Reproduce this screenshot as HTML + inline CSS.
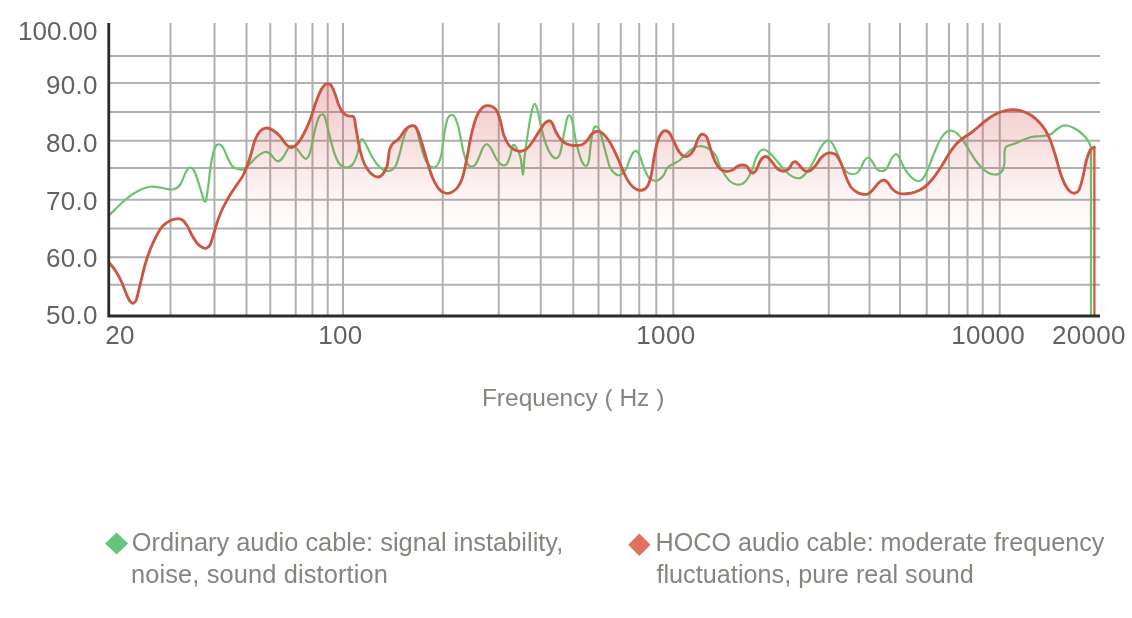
<!DOCTYPE html>
<html lang="en">
<head>
<meta charset="utf-8">
<title>Frequency response</title>
<style>
html,body{margin:0;padding:0;background:#fff;}
body{will-change:transform;width:1132px;height:618px;position:relative;overflow:hidden;font-family:"Liberation Sans",sans-serif;}
#chart{position:absolute;left:0;top:0;width:1132px;height:618px;filter:blur(0.4px);}
.yl,.xl,.title,.leg{filter:blur(0.35px);}
.yl{position:absolute;right:1034.5px;height:28px;line-height:28px;font-size:26px;color:#626262;white-space:nowrap;text-align:right;letter-spacing:0px;}
.xl{position:absolute;top:321.3px;height:28px;line-height:28px;font-size:26px;color:#626262;white-space:nowrap;letter-spacing:0.3px;}
.title{position:absolute;left:481.9px;top:383.5px;font-size:24.5px;line-height:28px;color:#85857e;white-space:nowrap;letter-spacing:0px;}
.leg{position:absolute;transform:translateY(0.4px);font-size:25px;height:31.5px;line-height:31.5px;color:#85857e;white-space:nowrap;}
</style>
</head>
<body>
<svg id="chart" width="1132" height="618" viewBox="0 0 1132 618">
<defs>
<linearGradient id="fg" gradientUnits="userSpaceOnUse" x1="0" y1="85" x2="0" y2="235">
<stop offset="0" stop-color="#d64e50" stop-opacity="0.3"/>
<stop offset="0.3" stop-color="#d64e50" stop-opacity="0.216"/>
<stop offset="0.567" stop-color="#d64e50" stop-opacity="0.117"/>
<stop offset="0.767" stop-color="#d64e50" stop-opacity="0.051"/>
<stop offset="0.933" stop-color="#d64e50" stop-opacity="0.018"/>
<stop offset="1" stop-color="#d64e50" stop-opacity="0"/>
</linearGradient>
<linearGradient id="fm" gradientUnits="userSpaceOnUse" x1="222" y1="0" x2="248" y2="0">
<stop offset="0" stop-color="#fff" stop-opacity="0"/>
<stop offset="0.4" stop-color="#fff" stop-opacity="0.3"/>
<stop offset="0.97" stop-color="#fff" stop-opacity="0.45"/>
<stop offset="1" stop-color="#fff" stop-opacity="1"/>
</linearGradient>
<mask id="mk" maskUnits="userSpaceOnUse" x="0" y="0" width="1132" height="618"><rect x="0" y="0" width="1132" height="618" fill="url(#fm)"/></mask>
</defs>
<g stroke="#b0b0b0" stroke-width="2.0" fill="none"><line x1="170.5" y1="23" x2="170.5" y2="315"/><line x1="214.5" y1="23" x2="214.5" y2="315"/><line x1="246.5" y1="23" x2="246.5" y2="315"/><line x1="270.25" y1="23" x2="270.25" y2="315"/><line x1="295.75" y1="23" x2="295.75" y2="315"/><line x1="312.5" y1="23" x2="312.5" y2="315"/><line x1="327.75" y1="23" x2="327.75" y2="315"/><line x1="343" y1="23" x2="343" y2="315"/><line x1="442.75" y1="23" x2="442.75" y2="315"/><line x1="498.75" y1="23" x2="498.75" y2="315"/><line x1="540.75" y1="23" x2="540.75" y2="315"/><line x1="573.25" y1="23" x2="573.25" y2="315"/><line x1="598.5" y1="23" x2="598.5" y2="315"/><line x1="620.75" y1="23" x2="620.75" y2="315"/><line x1="639.25" y1="23" x2="639.25" y2="315"/><line x1="656.25" y1="23" x2="656.25" y2="315"/><line x1="673.25" y1="23" x2="673.25" y2="315"/><line x1="769.25" y1="23" x2="769.25" y2="315"/><line x1="828.75" y1="23" x2="828.75" y2="315"/><line x1="869.5" y1="23" x2="869.5" y2="315"/><line x1="900" y1="23" x2="900" y2="315"/><line x1="926.75" y1="23" x2="926.75" y2="315"/><line x1="949" y1="23" x2="949" y2="315"/><line x1="967.5" y1="23" x2="967.5" y2="315"/><line x1="982.75" y1="23" x2="982.75" y2="315"/><line x1="999.75" y1="23" x2="999.75" y2="315"/><line x1="109" y1="56" x2="1100" y2="56"/><line x1="109" y1="83" x2="1100" y2="83"/><line x1="109" y1="112" x2="1100" y2="112"/><line x1="109" y1="140.75" x2="1100" y2="140.75"/><line x1="109" y1="168" x2="1100" y2="168"/><line x1="109" y1="199.75" x2="1100" y2="199.75"/><line x1="109" y1="228.5" x2="1100" y2="228.5"/><line x1="109" y1="257.25" x2="1100" y2="257.25"/><line x1="109" y1="284.75" x2="1100" y2="284.75"/></g>
<path d="M110.00,214.50C112.50,212.08 120.42,203.88 125.00,200.00C129.58,196.12 133.33,193.46 137.50,191.25C141.67,189.04 145.83,187.29 150.00,186.75C154.17,186.21 158.75,187.54 162.50,188.00C166.25,188.46 169.58,190.00 172.50,189.50C175.42,189.00 177.71,188.04 180.00,185.00C182.29,181.96 184.50,174.17 186.25,171.25C188.00,168.33 189.04,167.29 190.50,167.50C191.96,167.71 193.42,169.17 195.00,172.50C196.58,175.83 198.42,182.71 200.00,187.50C201.58,192.29 203.33,200.00 204.50,201.25C205.67,202.50 205.88,201.46 207.00,195.00C208.12,188.54 209.92,170.42 211.25,162.50C212.58,154.58 213.75,150.54 215.00,147.50C216.25,144.46 217.42,144.25 218.75,144.25C220.08,144.25 221.54,145.29 223.00,147.50C224.46,149.71 225.92,154.38 227.50,157.50C229.08,160.62 230.62,164.29 232.50,166.25C234.38,168.21 236.67,168.83 238.75,169.25C240.83,169.67 243.12,169.67 245.00,168.75C246.88,167.83 247.92,165.83 250.00,163.75C252.08,161.67 255.00,158.21 257.50,156.25C260.00,154.29 262.92,152.42 265.00,152.00C267.08,151.58 268.33,152.50 270.00,153.75C271.67,155.00 273.54,158.25 275.00,159.50C276.46,160.75 277.29,161.79 278.75,161.25C280.21,160.71 282.08,158.54 283.75,156.25C285.42,153.96 287.29,149.25 288.75,147.50C290.21,145.75 291.04,145.42 292.50,145.75C293.96,146.08 295.83,147.75 297.50,149.50C299.17,151.25 301.04,154.71 302.50,156.25C303.96,157.79 305.00,159.38 306.25,158.75C307.50,158.12 308.54,157.29 310.00,152.50C311.46,147.71 313.54,135.83 315.00,130.00C316.46,124.17 317.58,120.08 318.75,117.50C319.92,114.92 320.96,114.50 322.00,114.50C323.04,114.50 323.67,113.67 325.00,117.50C326.33,121.33 328.33,131.25 330.00,137.50C331.67,143.75 333.33,150.50 335.00,155.00C336.67,159.50 338.12,162.42 340.00,164.50C341.88,166.58 344.17,167.50 346.25,167.50C348.33,167.50 350.71,166.58 352.50,164.50C354.29,162.42 355.75,158.67 357.00,155.00C358.25,151.33 359.08,145.08 360.00,142.50C360.92,139.92 361.46,139.08 362.50,139.50C363.54,139.92 364.58,142.00 366.25,145.00C367.92,148.00 370.42,153.96 372.50,157.50C374.58,161.04 376.67,164.08 378.75,166.25C380.83,168.42 383.12,169.75 385.00,170.50C386.88,171.25 388.25,171.46 390.00,170.75C391.75,170.04 393.83,169.29 395.50,166.25C397.17,163.21 398.62,157.29 400.00,152.50C401.38,147.71 402.50,141.46 403.75,137.50C405.00,133.54 406.12,130.75 407.50,128.75C408.88,126.75 410.54,125.50 412.00,125.50C413.46,125.50 414.92,125.92 416.25,128.75C417.58,131.58 418.62,137.71 420.00,142.50C421.38,147.29 423.04,153.75 424.50,157.50C425.96,161.25 427.33,163.33 428.75,165.00C430.17,166.67 431.54,167.50 433.00,167.50C434.46,167.50 436.12,167.08 437.50,165.00C438.88,162.92 440.08,160.42 441.25,155.00C442.42,149.58 443.46,138.54 444.50,132.50C445.54,126.46 446.38,121.67 447.50,118.75C448.62,115.83 450.00,115.21 451.25,115.00C452.50,114.79 453.75,115.21 455.00,117.50C456.25,119.79 457.50,123.75 458.75,128.75C460.00,133.75 461.25,142.08 462.50,147.50C463.75,152.92 465.00,158.12 466.25,161.25C467.50,164.38 468.54,165.62 470.00,166.25C471.46,166.88 473.42,166.67 475.00,165.00C476.58,163.33 478.17,159.17 479.50,156.25C480.83,153.33 481.75,149.50 483.00,147.50C484.25,145.50 485.62,144.04 487.00,144.25C488.38,144.46 489.71,146.33 491.25,148.75C492.79,151.17 494.58,156.12 496.25,158.75C497.92,161.38 499.58,163.54 501.25,164.50C502.92,165.46 504.79,165.88 506.25,164.50C507.71,163.12 508.88,159.42 510.00,156.25C511.12,153.08 511.96,146.96 513.00,145.50C514.04,144.04 515.00,145.50 516.25,147.50C517.50,149.50 519.38,152.92 520.50,157.50C521.62,162.08 522.33,175.00 523.00,175.00C523.67,175.00 523.54,165.42 524.50,157.50C525.46,149.58 527.50,135.42 528.75,127.50C530.00,119.58 531.04,113.96 532.00,110.00C532.96,106.04 533.58,103.75 534.50,103.75C535.42,103.75 536.38,106.04 537.50,110.00C538.62,113.96 539.79,121.67 541.25,127.50C542.71,133.33 544.58,140.42 546.25,145.00C547.92,149.58 549.58,152.79 551.25,155.00C552.92,157.21 554.79,158.46 556.25,158.25C557.71,158.04 558.75,157.62 560.00,153.75C561.25,149.88 562.58,140.83 563.75,135.00C564.92,129.17 566.04,122.00 567.00,118.75C567.96,115.50 568.67,115.29 569.50,115.50C570.33,115.71 570.88,115.50 572.00,120.00C573.12,124.50 574.71,135.83 576.25,142.50C577.79,149.17 579.71,156.12 581.25,160.00C582.79,163.88 584.25,165.54 585.50,165.75C586.75,165.96 587.79,165.54 588.75,161.25C589.71,156.96 590.42,145.42 591.25,140.00C592.08,134.58 592.92,131.00 593.75,128.75C594.58,126.50 595.21,126.08 596.25,126.50C597.29,126.92 598.54,127.33 600.00,131.25C601.46,135.17 603.33,143.96 605.00,150.00C606.67,156.04 608.12,163.42 610.00,167.50C611.88,171.58 614.38,173.33 616.25,174.50C618.12,175.67 619.58,175.46 621.25,174.50C622.92,173.54 624.79,171.38 626.25,168.75C627.71,166.12 628.75,161.54 630.00,158.75C631.25,155.96 632.58,153.25 633.75,152.00C634.92,150.75 635.96,150.54 637.00,151.25C638.04,151.96 638.88,153.54 640.00,156.25C641.12,158.96 642.29,163.96 643.75,167.50C645.21,171.04 647.08,175.33 648.75,177.50C650.42,179.67 652.08,180.08 653.75,180.50C655.42,180.92 657.08,180.92 658.75,180.00C660.42,179.08 662.29,177.08 663.75,175.00C665.21,172.92 665.83,169.38 667.50,167.50C669.17,165.62 671.67,165.00 673.75,163.75C675.83,162.50 677.92,161.67 680.00,160.00C682.08,158.33 684.17,155.62 686.25,153.75C688.33,151.88 690.42,150.00 692.50,148.75C694.58,147.50 696.67,146.54 698.75,146.25C700.83,145.96 702.92,146.29 705.00,147.00C707.08,147.71 709.38,148.96 711.25,150.50C713.12,152.04 714.79,153.62 716.25,156.25C717.71,158.88 718.54,163.12 720.00,166.25C721.46,169.38 723.33,172.50 725.00,175.00C726.67,177.50 728.12,179.67 730.00,181.25C731.88,182.83 734.17,184.08 736.25,184.50C738.33,184.92 740.62,184.71 742.50,183.75C744.38,182.79 745.83,181.25 747.50,178.75C749.17,176.25 751.04,172.29 752.50,168.75C753.96,165.21 755.00,160.42 756.25,157.50C757.50,154.58 758.75,152.58 760.00,151.25C761.25,149.92 762.29,149.38 763.75,149.50C765.21,149.62 766.88,150.46 768.75,152.00C770.62,153.54 772.71,156.17 775.00,158.75C777.29,161.33 780.00,164.79 782.50,167.50C785.00,170.21 787.71,173.25 790.00,175.00C792.29,176.75 794.38,177.58 796.25,178.00C798.12,178.42 799.38,178.62 801.25,177.50C803.12,176.38 805.42,173.96 807.50,171.25C809.58,168.54 811.67,165.00 813.75,161.25C815.83,157.50 818.12,151.96 820.00,148.75C821.88,145.54 823.54,143.38 825.00,142.00C826.46,140.62 827.50,140.21 828.75,140.50C830.00,140.79 831.04,141.54 832.50,143.75C833.96,145.96 835.83,150.00 837.50,153.75C839.17,157.50 840.83,163.12 842.50,166.25C844.17,169.38 845.83,171.17 847.50,172.50C849.17,173.83 850.83,174.25 852.50,174.25C854.17,174.25 856.04,173.62 857.50,172.50C858.96,171.38 860.17,169.38 861.25,167.50C862.33,165.62 862.79,162.92 864.00,161.25C865.21,159.58 867.17,157.50 868.50,157.50C869.83,157.50 870.67,159.38 872.00,161.25C873.33,163.12 874.92,167.08 876.50,168.75C878.08,170.42 879.83,171.25 881.50,171.25C883.17,171.25 884.83,170.83 886.50,168.75C888.17,166.67 889.96,161.17 891.50,158.75C893.04,156.33 894.50,154.54 895.75,154.25C897.00,153.96 897.62,154.79 899.00,157.00C900.38,159.21 902.12,164.29 904.00,167.50C905.88,170.71 908.17,174.04 910.25,176.25C912.33,178.46 914.62,180.12 916.50,180.75C918.38,181.38 919.83,181.38 921.50,180.00C923.17,178.62 924.83,175.83 926.50,172.50C928.17,169.17 929.83,164.17 931.50,160.00C933.17,155.83 934.83,151.25 936.50,147.50C938.17,143.75 939.83,140.08 941.50,137.50C943.17,134.92 944.83,133.12 946.50,132.00C948.17,130.88 949.83,130.58 951.50,130.75C953.17,130.92 954.62,131.46 956.50,133.00C958.38,134.54 960.67,137.17 962.75,140.00C964.83,142.83 966.92,146.67 969.00,150.00C971.08,153.33 973.17,157.08 975.25,160.00C977.33,162.92 979.42,165.42 981.50,167.50C983.58,169.58 985.67,171.33 987.75,172.50C989.83,173.67 992.12,174.29 994.00,174.50C995.88,174.71 997.54,174.50 999.00,173.75C1000.46,173.00 1001.83,171.88 1002.75,170.00C1003.67,168.12 1004.21,165.42 1004.50,162.50C1004.79,159.58 1004.25,155.08 1004.50,152.50C1004.75,149.92 1005.04,148.25 1006.00,147.00C1006.96,145.75 1008.50,145.67 1010.25,145.00C1012.00,144.33 1014.21,143.92 1016.50,143.00C1018.79,142.08 1021.50,140.50 1024.00,139.50C1026.50,138.50 1029.00,137.54 1031.50,137.00C1034.00,136.46 1036.50,136.50 1039.00,136.25C1041.50,136.00 1044.42,135.92 1046.50,135.50C1048.58,135.08 1049.83,134.75 1051.50,133.75C1053.17,132.75 1054.83,130.75 1056.50,129.50C1058.17,128.25 1059.83,126.92 1061.50,126.25C1063.17,125.58 1064.62,125.29 1066.50,125.50C1068.38,125.71 1070.67,126.54 1072.75,127.50C1074.83,128.46 1076.92,129.67 1079.00,131.25C1081.08,132.83 1083.58,135.12 1085.25,137.00C1086.92,138.88 1088.04,140.75 1089.00,142.50C1089.96,144.25 1090.67,146.67 1091.00,147.50L1091,315" fill="none" stroke="#6ac46d" stroke-width="2.2" stroke-linejoin="round" stroke-linecap="round"/>
<g mask="url(#mk)"><path d="M222.50,208.75C223.75,206.46 227.50,199.17 230.00,195.00C232.50,190.83 235.21,187.25 237.50,183.75C239.79,180.25 241.67,178.38 243.75,174.00C245.83,169.62 248.12,163.17 250.00,157.50C251.88,151.83 253.33,144.38 255.00,140.00C256.67,135.62 258.12,133.25 260.00,131.25C261.88,129.25 264.17,128.21 266.25,128.00C268.33,127.79 270.21,128.62 272.50,130.00C274.79,131.38 277.71,133.83 280.00,136.25C282.29,138.67 284.38,142.62 286.25,144.50C288.12,146.38 289.58,147.42 291.25,147.50C292.92,147.58 294.38,146.88 296.25,145.00C298.12,143.12 300.21,140.42 302.50,136.25C304.79,132.08 307.71,125.83 310.00,120.00C312.29,114.17 314.38,106.33 316.25,101.25C318.12,96.17 319.79,92.25 321.25,89.50C322.71,86.75 323.88,85.73 325.00,84.75C326.12,83.77 326.96,83.47 328.00,83.60C329.04,83.72 330.08,83.81 331.25,85.50C332.42,87.19 333.75,90.50 335.00,93.75C336.25,97.00 337.50,101.96 338.75,105.00C340.00,108.04 341.04,110.21 342.50,112.00C343.96,113.79 345.83,115.04 347.50,115.75C349.17,116.46 351.33,115.75 352.50,116.25C353.67,116.75 353.88,116.46 354.50,118.75C355.12,121.04 355.33,124.79 356.25,130.00C357.17,135.21 358.54,144.17 360.00,150.00C361.46,155.83 363.12,161.04 365.00,165.00C366.88,168.96 369.17,171.75 371.25,173.75C373.33,175.75 375.62,176.88 377.50,177.00C379.38,177.12 380.92,176.29 382.50,174.50C384.08,172.71 385.83,170.33 387.00,166.25C388.17,162.17 388.58,153.75 389.50,150.00C390.42,146.25 390.96,145.62 392.50,143.75C394.04,141.88 396.67,141.04 398.75,138.75C400.83,136.46 403.12,132.08 405.00,130.00C406.88,127.92 408.33,126.88 410.00,126.25C411.67,125.62 413.67,125.42 415.00,126.25C416.33,127.08 416.75,128.12 418.00,131.25C419.25,134.38 420.92,139.79 422.50,145.00C424.08,150.21 425.83,157.08 427.50,162.50C429.17,167.92 430.62,173.12 432.50,177.50C434.38,181.88 436.67,186.17 438.75,188.75C440.83,191.33 442.92,192.38 445.00,193.00C447.08,193.62 449.17,193.42 451.25,192.50C453.33,191.58 455.62,190.00 457.50,187.50C459.38,185.00 460.92,182.50 462.50,177.50C464.08,172.50 465.54,164.58 467.00,157.50C468.46,150.42 469.71,141.67 471.25,135.00C472.79,128.33 474.58,121.88 476.25,117.50C477.92,113.12 479.58,110.71 481.25,108.75C482.92,106.79 484.38,106.08 486.25,105.75C488.12,105.42 490.71,105.83 492.50,106.75C494.29,107.67 495.67,108.83 497.00,111.25C498.33,113.67 499.38,117.29 500.50,121.25C501.62,125.21 502.38,131.04 503.75,135.00C505.12,138.96 506.88,142.50 508.75,145.00C510.62,147.50 512.92,148.96 515.00,150.00C517.08,151.04 519.17,151.58 521.25,151.25C523.33,150.92 525.42,149.88 527.50,148.00C529.58,146.12 531.67,143.00 533.75,140.00C535.83,137.00 538.12,132.83 540.00,130.00C541.88,127.17 543.42,124.54 545.00,123.00C546.58,121.46 548.25,120.62 549.50,120.75C550.75,120.88 551.38,121.79 552.50,123.75C553.62,125.71 554.79,129.79 556.25,132.50C557.71,135.21 559.38,138.04 561.25,140.00C563.12,141.96 565.21,143.33 567.50,144.25C569.79,145.17 572.50,145.46 575.00,145.50C577.50,145.54 580.42,145.42 582.50,144.50C584.58,143.58 586.04,141.67 587.50,140.00C588.96,138.33 589.79,135.92 591.25,134.50C592.71,133.08 594.38,131.71 596.25,131.50C598.12,131.29 600.21,131.42 602.50,133.25C604.79,135.08 607.50,138.46 610.00,142.50C612.50,146.54 615.21,152.50 617.50,157.50C619.79,162.50 621.67,168.12 623.75,172.50C625.83,176.88 627.92,180.96 630.00,183.75C632.08,186.54 634.17,188.21 636.25,189.25C638.33,190.29 640.62,190.50 642.50,190.00C644.38,189.50 646.04,188.75 647.50,186.25C648.96,183.75 650.08,180.21 651.25,175.00C652.42,169.79 653.38,160.83 654.50,155.00C655.62,149.17 656.75,143.75 658.00,140.00C659.25,136.25 660.75,134.04 662.00,132.50C663.25,130.96 664.25,130.67 665.50,130.75C666.75,130.83 668.12,131.25 669.50,133.00C670.88,134.75 672.21,138.21 673.75,141.25C675.29,144.29 677.08,148.75 678.75,151.25C680.42,153.75 682.08,155.54 683.75,156.25C685.42,156.96 687.08,156.54 688.75,155.50C690.42,154.46 692.29,152.58 693.75,150.00C695.21,147.42 696.38,142.50 697.50,140.00C698.62,137.50 699.46,135.92 700.50,135.00C701.54,134.08 702.67,134.08 703.75,134.50C704.83,134.92 705.96,135.33 707.00,137.50C708.04,139.67 708.67,143.54 710.00,147.50C711.33,151.46 713.33,157.71 715.00,161.25C716.67,164.79 718.12,167.08 720.00,168.75C721.88,170.42 724.17,171.04 726.25,171.25C728.33,171.46 730.62,170.83 732.50,170.00C734.38,169.17 735.83,167.08 737.50,166.25C739.17,165.42 740.92,165.00 742.50,165.00C744.08,165.00 745.75,165.21 747.00,166.25C748.25,167.29 749.00,170.12 750.00,171.25C751.00,172.38 751.96,173.21 753.00,173.00C754.04,172.79 755.08,171.96 756.25,170.00C757.42,168.04 758.75,163.42 760.00,161.25C761.25,159.08 762.50,157.71 763.75,157.00C765.00,156.29 766.04,156.08 767.50,157.00C768.96,157.92 770.83,160.54 772.50,162.50C774.17,164.46 775.62,167.29 777.50,168.75C779.38,170.21 781.88,171.25 783.75,171.25C785.62,171.25 787.29,170.12 788.75,168.75C790.21,167.38 791.38,164.17 792.50,163.00C793.62,161.83 794.46,161.50 795.50,161.75C796.54,162.00 797.38,163.12 798.75,164.50C800.12,165.88 802.08,168.88 803.75,170.00C805.42,171.12 806.88,171.88 808.75,171.25C810.62,170.62 812.92,168.54 815.00,166.25C817.08,163.96 819.38,159.58 821.25,157.50C823.12,155.42 824.58,154.50 826.25,153.75C827.92,153.00 829.58,152.79 831.25,153.00C832.92,153.21 834.58,153.21 836.25,155.00C837.92,156.79 839.58,160.00 841.25,163.75C842.92,167.50 844.58,173.54 846.25,177.50C847.92,181.46 849.38,185.00 851.25,187.50C853.12,190.00 855.54,191.38 857.50,192.50C859.46,193.62 861.25,194.00 863.00,194.25C864.75,194.50 866.38,194.71 868.00,194.00C869.62,193.29 870.92,191.92 872.75,190.00C874.58,188.08 877.12,184.17 879.00,182.50C880.88,180.83 882.54,180.00 884.00,180.00C885.46,180.00 886.29,180.92 887.75,182.50C889.21,184.08 890.88,187.71 892.75,189.50C894.62,191.29 896.71,192.54 899.00,193.25C901.29,193.96 903.79,193.96 906.50,193.75C909.21,193.54 912.33,193.04 915.25,192.00C918.17,190.96 921.08,189.71 924.00,187.50C926.92,185.29 929.83,182.29 932.75,178.75C935.67,175.21 938.79,170.42 941.50,166.25C944.21,162.08 946.50,157.50 949.00,153.75C951.50,150.00 954.00,146.46 956.50,143.75C959.00,141.04 961.50,139.38 964.00,137.50C966.50,135.62 969.00,134.38 971.50,132.50C974.00,130.62 976.50,128.33 979.00,126.25C981.50,124.17 984.00,121.88 986.50,120.00C989.00,118.12 991.50,116.38 994.00,115.00C996.50,113.62 999.00,112.58 1001.50,111.75C1004.00,110.92 1006.50,110.29 1009.00,110.00C1011.50,109.71 1014.00,109.71 1016.50,110.00C1019.00,110.29 1021.50,110.83 1024.00,111.75C1026.50,112.67 1029.00,113.79 1031.50,115.50C1034.00,117.21 1036.71,119.58 1039.00,122.00C1041.29,124.42 1043.38,127.00 1045.25,130.00C1047.12,133.00 1048.58,135.83 1050.25,140.00C1051.92,144.17 1053.58,149.58 1055.25,155.00C1056.92,160.42 1058.58,167.50 1060.25,172.50C1061.92,177.50 1063.58,181.79 1065.25,185.00C1066.92,188.21 1068.58,190.42 1070.25,191.75C1071.92,193.08 1073.79,193.29 1075.25,193.00C1076.71,192.71 1077.75,192.58 1079.00,190.00C1080.25,187.42 1081.50,182.50 1082.75,177.50C1084.00,172.50 1085.25,164.58 1086.50,160.00C1087.75,155.42 1089.08,152.08 1090.25,150.00C1091.42,147.92 1092.96,147.92 1093.50,147.50L1094.5,240L222.5,240Z" fill="url(#fg)" stroke="none"/></g>
<path d="M109.50,263.00C110.42,264.17 113.04,266.96 115.00,270.00C116.96,273.04 119.38,277.29 121.25,281.25C123.12,285.21 124.79,290.42 126.25,293.75C127.71,297.08 128.83,299.67 130.00,301.25C131.17,302.83 132.21,303.46 133.25,303.25C134.29,303.04 135.12,303.04 136.25,300.00C137.38,296.96 138.54,290.83 140.00,285.00C141.46,279.17 143.33,270.83 145.00,265.00C146.67,259.17 148.12,254.79 150.00,250.00C151.88,245.21 154.17,240.21 156.25,236.25C158.33,232.29 160.21,228.83 162.50,226.25C164.79,223.67 167.50,222.00 170.00,220.75C172.50,219.50 175.42,218.88 177.50,218.75C179.58,218.62 180.83,218.75 182.50,220.00C184.17,221.25 185.83,223.54 187.50,226.25C189.17,228.96 190.83,233.33 192.50,236.25C194.17,239.17 195.83,241.88 197.50,243.75C199.17,245.62 201.04,246.75 202.50,247.50C203.96,248.25 205.00,248.67 206.25,248.25C207.50,247.83 208.75,247.42 210.00,245.00C211.25,242.58 212.50,237.71 213.75,233.75C215.00,229.79 216.04,225.42 217.50,221.25C218.96,217.08 220.42,213.12 222.50,208.75C224.58,204.38 227.50,199.17 230.00,195.00C232.50,190.83 235.21,187.25 237.50,183.75C239.79,180.25 241.67,178.38 243.75,174.00C245.83,169.62 248.12,163.17 250.00,157.50C251.88,151.83 253.33,144.38 255.00,140.00C256.67,135.62 258.12,133.25 260.00,131.25C261.88,129.25 264.17,128.21 266.25,128.00C268.33,127.79 270.21,128.62 272.50,130.00C274.79,131.38 277.71,133.83 280.00,136.25C282.29,138.67 284.38,142.62 286.25,144.50C288.12,146.38 289.58,147.42 291.25,147.50C292.92,147.58 294.38,146.88 296.25,145.00C298.12,143.12 300.21,140.42 302.50,136.25C304.79,132.08 307.71,125.83 310.00,120.00C312.29,114.17 314.38,106.33 316.25,101.25C318.12,96.17 319.79,92.25 321.25,89.50C322.71,86.75 323.88,85.73 325.00,84.75C326.12,83.77 326.96,83.47 328.00,83.60C329.04,83.72 330.08,83.81 331.25,85.50C332.42,87.19 333.75,90.50 335.00,93.75C336.25,97.00 337.50,101.96 338.75,105.00C340.00,108.04 341.04,110.21 342.50,112.00C343.96,113.79 345.83,115.04 347.50,115.75C349.17,116.46 351.33,115.75 352.50,116.25C353.67,116.75 353.88,116.46 354.50,118.75C355.12,121.04 355.33,124.79 356.25,130.00C357.17,135.21 358.54,144.17 360.00,150.00C361.46,155.83 363.12,161.04 365.00,165.00C366.88,168.96 369.17,171.75 371.25,173.75C373.33,175.75 375.62,176.88 377.50,177.00C379.38,177.12 380.92,176.29 382.50,174.50C384.08,172.71 385.83,170.33 387.00,166.25C388.17,162.17 388.58,153.75 389.50,150.00C390.42,146.25 390.96,145.62 392.50,143.75C394.04,141.88 396.67,141.04 398.75,138.75C400.83,136.46 403.12,132.08 405.00,130.00C406.88,127.92 408.33,126.88 410.00,126.25C411.67,125.62 413.67,125.42 415.00,126.25C416.33,127.08 416.75,128.12 418.00,131.25C419.25,134.38 420.92,139.79 422.50,145.00C424.08,150.21 425.83,157.08 427.50,162.50C429.17,167.92 430.62,173.12 432.50,177.50C434.38,181.88 436.67,186.17 438.75,188.75C440.83,191.33 442.92,192.38 445.00,193.00C447.08,193.62 449.17,193.42 451.25,192.50C453.33,191.58 455.62,190.00 457.50,187.50C459.38,185.00 460.92,182.50 462.50,177.50C464.08,172.50 465.54,164.58 467.00,157.50C468.46,150.42 469.71,141.67 471.25,135.00C472.79,128.33 474.58,121.88 476.25,117.50C477.92,113.12 479.58,110.71 481.25,108.75C482.92,106.79 484.38,106.08 486.25,105.75C488.12,105.42 490.71,105.83 492.50,106.75C494.29,107.67 495.67,108.83 497.00,111.25C498.33,113.67 499.38,117.29 500.50,121.25C501.62,125.21 502.38,131.04 503.75,135.00C505.12,138.96 506.88,142.50 508.75,145.00C510.62,147.50 512.92,148.96 515.00,150.00C517.08,151.04 519.17,151.58 521.25,151.25C523.33,150.92 525.42,149.88 527.50,148.00C529.58,146.12 531.67,143.00 533.75,140.00C535.83,137.00 538.12,132.83 540.00,130.00C541.88,127.17 543.42,124.54 545.00,123.00C546.58,121.46 548.25,120.62 549.50,120.75C550.75,120.88 551.38,121.79 552.50,123.75C553.62,125.71 554.79,129.79 556.25,132.50C557.71,135.21 559.38,138.04 561.25,140.00C563.12,141.96 565.21,143.33 567.50,144.25C569.79,145.17 572.50,145.46 575.00,145.50C577.50,145.54 580.42,145.42 582.50,144.50C584.58,143.58 586.04,141.67 587.50,140.00C588.96,138.33 589.79,135.92 591.25,134.50C592.71,133.08 594.38,131.71 596.25,131.50C598.12,131.29 600.21,131.42 602.50,133.25C604.79,135.08 607.50,138.46 610.00,142.50C612.50,146.54 615.21,152.50 617.50,157.50C619.79,162.50 621.67,168.12 623.75,172.50C625.83,176.88 627.92,180.96 630.00,183.75C632.08,186.54 634.17,188.21 636.25,189.25C638.33,190.29 640.62,190.50 642.50,190.00C644.38,189.50 646.04,188.75 647.50,186.25C648.96,183.75 650.08,180.21 651.25,175.00C652.42,169.79 653.38,160.83 654.50,155.00C655.62,149.17 656.75,143.75 658.00,140.00C659.25,136.25 660.75,134.04 662.00,132.50C663.25,130.96 664.25,130.67 665.50,130.75C666.75,130.83 668.12,131.25 669.50,133.00C670.88,134.75 672.21,138.21 673.75,141.25C675.29,144.29 677.08,148.75 678.75,151.25C680.42,153.75 682.08,155.54 683.75,156.25C685.42,156.96 687.08,156.54 688.75,155.50C690.42,154.46 692.29,152.58 693.75,150.00C695.21,147.42 696.38,142.50 697.50,140.00C698.62,137.50 699.46,135.92 700.50,135.00C701.54,134.08 702.67,134.08 703.75,134.50C704.83,134.92 705.96,135.33 707.00,137.50C708.04,139.67 708.67,143.54 710.00,147.50C711.33,151.46 713.33,157.71 715.00,161.25C716.67,164.79 718.12,167.08 720.00,168.75C721.88,170.42 724.17,171.04 726.25,171.25C728.33,171.46 730.62,170.83 732.50,170.00C734.38,169.17 735.83,167.08 737.50,166.25C739.17,165.42 740.92,165.00 742.50,165.00C744.08,165.00 745.75,165.21 747.00,166.25C748.25,167.29 749.00,170.12 750.00,171.25C751.00,172.38 751.96,173.21 753.00,173.00C754.04,172.79 755.08,171.96 756.25,170.00C757.42,168.04 758.75,163.42 760.00,161.25C761.25,159.08 762.50,157.71 763.75,157.00C765.00,156.29 766.04,156.08 767.50,157.00C768.96,157.92 770.83,160.54 772.50,162.50C774.17,164.46 775.62,167.29 777.50,168.75C779.38,170.21 781.88,171.25 783.75,171.25C785.62,171.25 787.29,170.12 788.75,168.75C790.21,167.38 791.38,164.17 792.50,163.00C793.62,161.83 794.46,161.50 795.50,161.75C796.54,162.00 797.38,163.12 798.75,164.50C800.12,165.88 802.08,168.88 803.75,170.00C805.42,171.12 806.88,171.88 808.75,171.25C810.62,170.62 812.92,168.54 815.00,166.25C817.08,163.96 819.38,159.58 821.25,157.50C823.12,155.42 824.58,154.50 826.25,153.75C827.92,153.00 829.58,152.79 831.25,153.00C832.92,153.21 834.58,153.21 836.25,155.00C837.92,156.79 839.58,160.00 841.25,163.75C842.92,167.50 844.58,173.54 846.25,177.50C847.92,181.46 849.38,185.00 851.25,187.50C853.12,190.00 855.54,191.38 857.50,192.50C859.46,193.62 861.25,194.00 863.00,194.25C864.75,194.50 866.38,194.71 868.00,194.00C869.62,193.29 870.92,191.92 872.75,190.00C874.58,188.08 877.12,184.17 879.00,182.50C880.88,180.83 882.54,180.00 884.00,180.00C885.46,180.00 886.29,180.92 887.75,182.50C889.21,184.08 890.88,187.71 892.75,189.50C894.62,191.29 896.71,192.54 899.00,193.25C901.29,193.96 903.79,193.96 906.50,193.75C909.21,193.54 912.33,193.04 915.25,192.00C918.17,190.96 921.08,189.71 924.00,187.50C926.92,185.29 929.83,182.29 932.75,178.75C935.67,175.21 938.79,170.42 941.50,166.25C944.21,162.08 946.50,157.50 949.00,153.75C951.50,150.00 954.00,146.46 956.50,143.75C959.00,141.04 961.50,139.38 964.00,137.50C966.50,135.62 969.00,134.38 971.50,132.50C974.00,130.62 976.50,128.33 979.00,126.25C981.50,124.17 984.00,121.88 986.50,120.00C989.00,118.12 991.50,116.38 994.00,115.00C996.50,113.62 999.00,112.58 1001.50,111.75C1004.00,110.92 1006.50,110.29 1009.00,110.00C1011.50,109.71 1014.00,109.71 1016.50,110.00C1019.00,110.29 1021.50,110.83 1024.00,111.75C1026.50,112.67 1029.00,113.79 1031.50,115.50C1034.00,117.21 1036.71,119.58 1039.00,122.00C1041.29,124.42 1043.38,127.00 1045.25,130.00C1047.12,133.00 1048.58,135.83 1050.25,140.00C1051.92,144.17 1053.58,149.58 1055.25,155.00C1056.92,160.42 1058.58,167.50 1060.25,172.50C1061.92,177.50 1063.58,181.79 1065.25,185.00C1066.92,188.21 1068.58,190.42 1070.25,191.75C1071.92,193.08 1073.79,193.29 1075.25,193.00C1076.71,192.71 1077.75,192.58 1079.00,190.00C1080.25,187.42 1081.50,182.50 1082.75,177.50C1084.00,172.50 1085.25,164.58 1086.50,160.00C1087.75,155.42 1089.08,152.08 1090.25,150.00C1091.42,147.92 1092.96,147.92 1093.50,147.50L1094.2,147.3" fill="none" stroke="#cb5641" stroke-width="2.85" stroke-linejoin="round" stroke-linecap="round"/>
<path d="M1094.4,147V315" fill="none" stroke="#cb5641" stroke-width="2.2" stroke-linecap="round"/>
<path d="M108.75,23V316H1100" fill="none" stroke="#2b2b2b" stroke-width="2.8" stroke-linejoin="miter"/>
<polygon points="105.1,543.5 116.6,532.6 128.1,543.5 116.6,554.5" fill="#66c47e"/>
<polygon points="628.2,544.8 639.35,533.6 650.5,544.8 639.35,556" fill="#e2725f"/>
</svg>
<div class="yl" style="top:16.60px">100.00</div><div class="yl" style="top:71.00px;letter-spacing:0.3px;right:1034.2px">90.0</div><div class="yl" style="top:129.10px;letter-spacing:0.3px;right:1034.2px">80.0</div><div class="yl" style="top:186.90px;letter-spacing:0.3px;right:1034.2px">70.0</div><div class="yl" style="top:243.90px;letter-spacing:0.3px;right:1034.2px">60.0</div><div class="yl" style="top:301.20px;letter-spacing:0.3px;right:1034.2px">50.0</div>
<div class="xl" style="left:105.3px">20</div><div class="xl" style="left:290.3px;width:100px;text-align:center">100</div><div class="xl" style="left:615.9px;width:100px;text-align:center">1000</div><div class="xl" style="left:938.1px;width:100px;text-align:center">10000</div><div class="xl" style="left:1038.9px;width:100px;text-align:center">20000</div>
<div class="title">Frequency ( Hz )</div>
<div class="leg" style="left:131.8px;top:527.4px;font-size:25.4px">Ordinary audio cable: signal instability,</div>
<div class="leg" style="left:131px;top:558.6px;font-size:25.4px;letter-spacing:0.125px">noise, sound distortion</div>
<div class="leg" style="left:655.5px;top:527.4px;font-size:25.17px">HOCO audio cable: moderate frequency</div>
<div class="leg" style="left:656.4px;top:558.6px;font-size:25.17px;letter-spacing:0.05px">fluctuations, pure real sound</div>
</body>
</html>
